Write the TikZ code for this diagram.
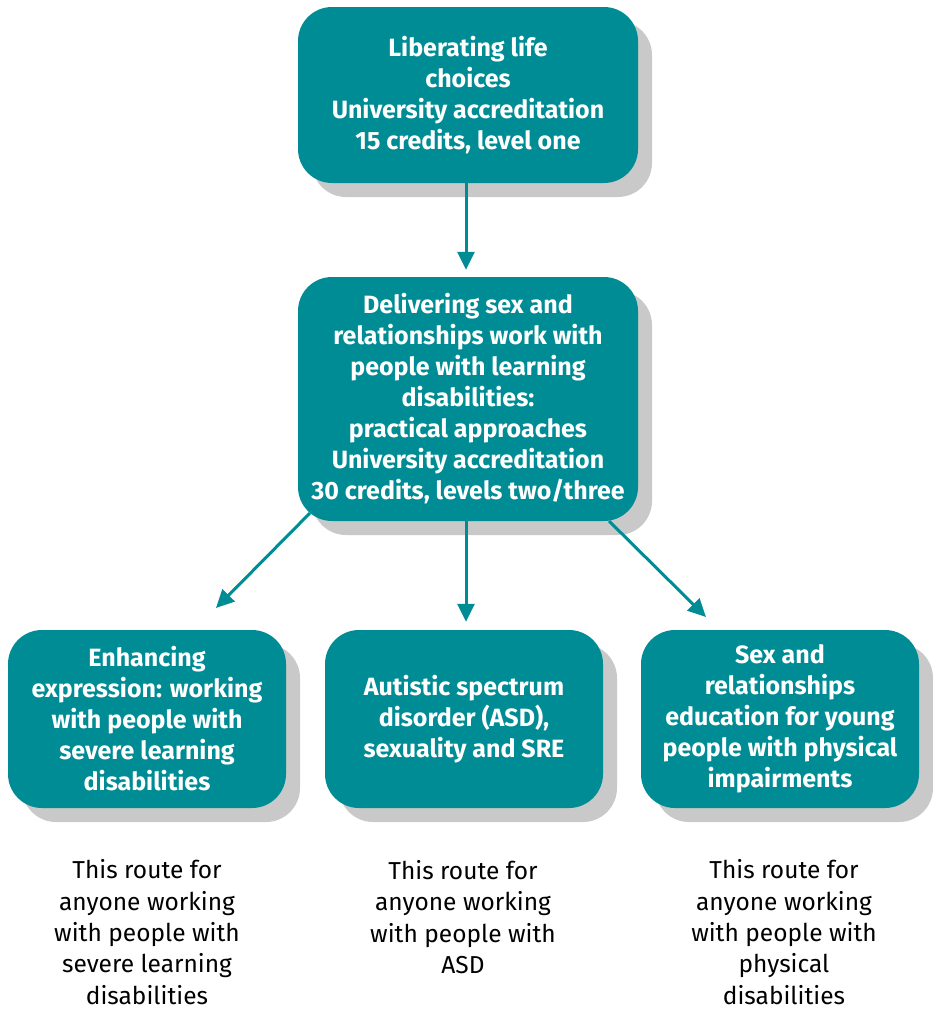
\documentclass[tikz,border=0pt]{standalone}
\usepackage{fontspec}
\setmainfont{Fira Sans}
\usetikzlibrary{arrows.meta,shadows}
\definecolor{teal1}{HTML}{008C95}
\definecolor{shade1}{HTML}{C8C9C8}
\tikzset{
  box/.style={rounded corners=34pt, fill=teal1, text=white, align=center,
    inner sep=0pt, font=\bfseries\fontsize{25}{31}\selectfont,
    drop shadow={shadow xshift=14pt, shadow yshift=-14pt, fill=shade1, opacity=1}},
  arr/.style={draw=teal1, line width=3pt, -{Triangle[length=18pt,width=17pt]}},
  note/.style={align=center, text=black, font=\fontsize{24.5}{31.3}\selectfont, inner sep=0pt}
}
\begin{document}
\begin{tikzpicture}[x=1pt,y=-1pt]
\useasboundingbox (0,0) rectangle (933,1009);
\node[box, minimum width=340pt, minimum height=176pt] (top) at (468,95)
  {Liberating life\\choices\\University accreditation\\15 credits, level one};
\node[box, minimum width=340pt, minimum height=244pt] (mid) at (468,399)
  {Delivering sex and\\relationships work with\\people with learning\\disabilities:\\practical approaches\\University accreditation\\30 credits, levels two/three};
\node[box, minimum width=278pt, minimum height=178pt] (bl) at (147,719)
  {Enhancing\\expression: working\\with people with\\severe learning\\disabilities};
\node[box, minimum width=278pt, minimum height=178pt] (bm) at (464,719)
  {Autistic spectrum\\disorder (ASD),\\sexuality and SRE};
\node[box, minimum width=278pt, minimum height=178pt] (br) at (780,719)
  {Sex and\\relationships\\education for young\\people with physical\\impairments};
\draw[arr, shorten >=7pt] (top.south -| 466,0) -- (mid.north -| 466,0);
\draw[arr, shorten >=8pt] (mid.south -| 466,0) -- (bm.north -| 466,0);
\coordinate (ls) at (310,513);
\coordinate (le) at (216,608);
\coordinate (rs) at (609,521);
\coordinate (re) at (706,617);
\draw[arr] (ls) -- (le);
\draw[arr] (rs) -- (re);
\node[note] (nl) at (147,932) {This route for\\anyone working\\with people with\\severe learning\\disabilities};
\node[note] (nm) at (463,917) {This route for\\anyone working\\with people with\\ASD};
\node[note] (nr) at (784,932) {This route for\\anyone working\\with people with\\physical\\disabilities};
\end{tikzpicture}
\end{document}
